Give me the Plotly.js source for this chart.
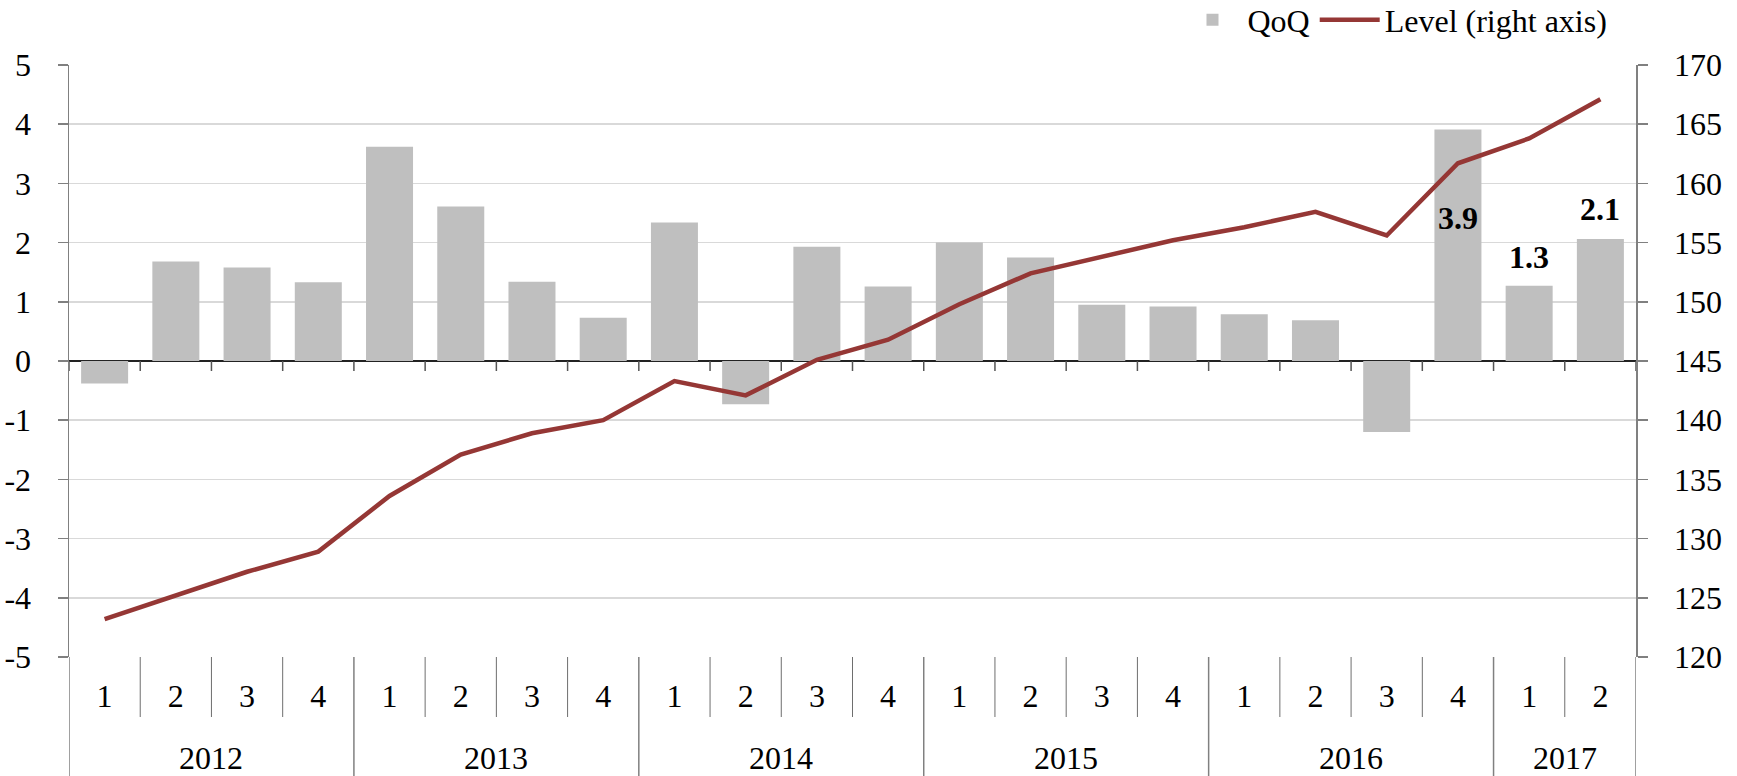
<!DOCTYPE html>
<html><head><meta charset="utf-8">
<script src="https://cdn.plot.ly/plotly-3.0.1.min.js"></script>
<style>html,body{margin:0;padding:0;background:#fff}#chart{width:1737px;height:776px}</style>
</head><body><div id="chart"></div>
<script>
const yearLabels = ['2012','2012','2012','2012','2013','2013','2013','2013','2014','2014','2014','2014',
                    '2015','2015','2015','2015','2016','2016','2016','2016','2017','2017'];
const quarterLabels = ['1','2','3','4','1','2','3','4','1','2','3','4','1','2','3','4','1','2','3','4','1','2'];
const qoq = [-0.38,1.68,1.58,1.33,3.62,2.61,1.34,0.73,2.34,-0.73,1.93,1.26,
             2.00,1.75,0.95,0.92,0.79,0.69,-1.20,3.91,1.27,2.06];
const level = [123.2,125.2,127.2,128.9,133.6,137.1,138.9,140.0,143.3,142.1,145.1,146.8,
               149.8,152.4,153.8,155.2,156.3,157.6,155.6,161.7,163.8,167.1];
const labelledIdx = [19,20,21];
const leftTickVals = [-5,-4,-3,-2,-1,0,1,2,3,4,5];
const leftTickText = ['-5','-4','-3','-2','-1','0','1','2','3','4','5'];
const rightTickVals = [120,125,130,135,140,145,150,155,160,165,170];

const FONT = 'Liberation Serif, Times New Roman, serif';
const AXC = '#808080';
const DIVC = '#6e6e6e';
const nCat = quarterLabels.length;
const xIdx = quarterLabels.map((_, i) => i);

const traces = [
  {type:'bar', name:'QoQ', x:xIdx, y:qoq, marker:{color:'#bfbfbf'}, yaxis:'y', hoverinfo:'skip'},
  {type:'scatter', mode:'lines', name:'Level (right axis)', x:xIdx, y:level, yaxis:'y2',
   line:{color:'#953735', width:4.5}, hoverinfo:'skip'}
];

// value labels on the last bars
const shifts = {19:-88, 20:29, 21:30};
const annotations = labelledIdx.map(i => ({
  x: xIdx[i], xref:'x', y: qoq[i], yref:'y', text: qoq[i].toFixed(1), showarrow:false,
  yshift: shifts[i], font:{family:FONT, size:32, color:'#000', weight:'bold'}
}));

// year group labels (centred under each year's quarters)
const years = [...new Set(yearLabels)];
years.forEach(yr => {
  const idx = xIdx.filter(i => yearLabels[i] === yr);
  const mid = (idx[0] + idx[idx.length-1]) / 2;
  annotations.push({x: mid, xref:'x', y:0, yref:'paper', yanchor:'middle', yshift:-101,
    text: yr, showarrow:false, font:{family:FONT, size:32, color:'#000'}});
});

// category boundary lines: small ticks on the zero line, quarter dividers, year dividers
const shapes = [];
for (let b = 0; b <= nCat; b++) {
  const xb = b - 0.5;
  shapes.push({type:'line', xref:'x', x0:xb, x1:xb, yref:'y', ysizemode:'pixel', yanchor:0, y0:0, y1:-10,
               line:{color:'#555', width:1.5}, layer:'above'});
  const isYearEdge = (b === 0 || b === nCat || yearLabels[b] !== yearLabels[b-1]);
  shapes.push({type:'line', xref:'x', x0:xb, x1:xb, yref:'paper', ysizemode:'pixel', yanchor:0, y0:0,
               y1: isYearEdge ? -125 : -60, line:{color: isYearEdge ? AXC : DIVC, width: isYearEdge ? 1.5 : 1}, layer:'above'});
}

const layout = {
  width:1737, height:776,
  margin:{l:69, r:101, t:65, b:119, autoexpand:false},
  paper_bgcolor:'#fff', plot_bgcolor:'#fff',
  font:{family:FONT, size:32, color:'#000'},
  bargap:0.34,
  showlegend:true,
  legend:{orientation:'h', x:0.985, xanchor:'right', y:1.076, yanchor:'middle',
          font:{family:FONT, size:32, color:'#000'}, bgcolor:'rgba(0,0,0,0)', itemwidth:60,
          borderwidth:0},
  xaxis:{type:'linear', range:[-0.5, nCat-0.5], tickvals:xIdx, ticktext:quarterLabels, ticks:'',
         showline:false, showgrid:false, zeroline:false, ticklabelstandoff:17,
         tickfont:{family:FONT, size:32, color:'#000'}},
  yaxis:{range:[-5,5], tickvals:leftTickVals, ticktext:leftTickText, showgrid:true, gridcolor:'#d9d9d9', gridwidth:1.5,
         zeroline:true, zerolinecolor:'#222', zerolinewidth:1.5,
         showline:true, linecolor:AXC, linewidth:1.5, ticks:'outside', ticklen:10, tickcolor:AXC, tickwidth:1.5,
         ticklabelstandoff:20, tickfont:{family:FONT, size:32, color:'#000'}},
  yaxis2:{range:[120,170], tickvals:rightTickVals, overlaying:'y', side:'right', showgrid:false, zeroline:false,
          showline:true, linecolor:AXC, linewidth:1.5, ticks:'outside', ticklen:10, tickcolor:AXC, tickwidth:1.5,
          ticklabelstandoff:20, tickfont:{family:FONT, size:32, color:'#000'}},
  annotations: annotations,
  shapes: shapes
};

Plotly.newPlot('chart', traces, layout, {displayModeBar:false, staticPlot:true});
</script>
</body></html>
